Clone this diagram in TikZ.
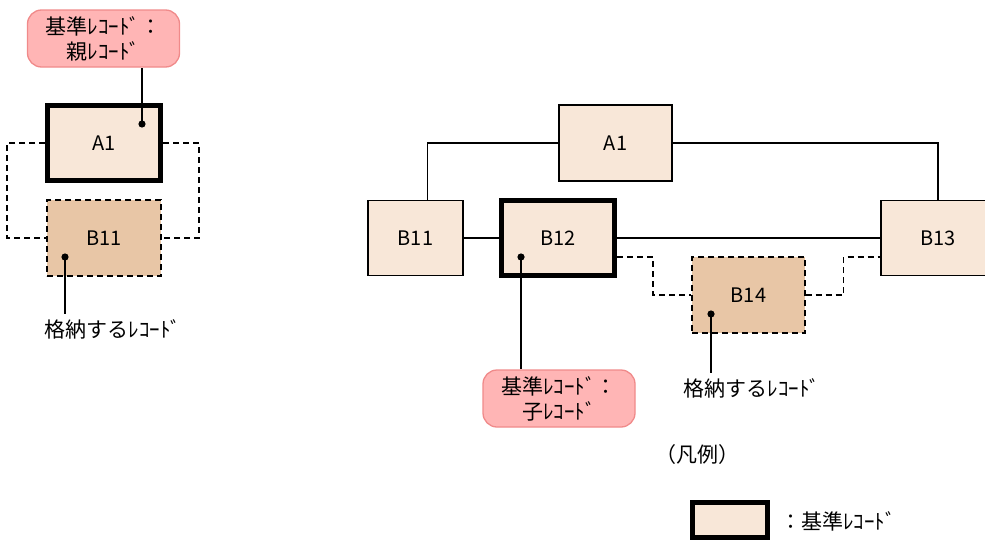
\documentclass[tikz,border=0pt]{standalone}
\usepackage{fontspec}
\setmainfont{Noto Sans CJK JP}
\definecolor{boxfill}{HTML}{F8E7D8}
\definecolor{storefill}{HTML}{E8C6A6}
\definecolor{callfill}{HTML}{FFB5B5}
\definecolor{calldraw}{HTML}{F08A8A}
\tikzset{
  rec/.style={draw=black, fill=boxfill, line width=1.3pt, minimum width=95pt, minimum height=75pt, inner sep=0pt, font=\fontsize{20}{22}\selectfont},
  baserec/.style={rec, line width=5pt, minimum width=113pt, minimum height=75pt},
  storerec/.style={rec, fill=storefill, dashed, dash pattern=on 6pt off 4pt, minimum width=113pt, minimum height=76pt},
  callout/.style={draw=calldraw, fill=callfill, line width=1.3pt, rounded corners=14pt, minimum width=152pt, minimum height=57pt, align=center, inner sep=0pt, font=\fontsize{21}{25}\selectfont},
  lbl/.style={inner sep=0pt, font=\fontsize{21}{22}\selectfont},
  conn/.style={line width=1.3pt},
  dconn/.style={line width=1.3pt, dash pattern=on 6pt off 4pt},
  dot/.style={fill=black}
}
\begin{document}
\begin{tikzpicture}[x=1pt, y=-1pt]
\useasboundingbox (0,0) rectangle (985,541);
% ---------- left part ----------
\node[callout] (c1) at (103.5,38.5) {基準ﾚｺｰﾄﾞ：\\親ﾚｺｰﾄﾞ};
\node[baserec] (A1l) at (104,143) {A1};
\node[storerec, minimum width=114pt] (B11l) at (104,238) {B11};
\coordinate (d1) at (142,124);
\coordinate (d2) at (65,257);
\node[lbl] (s1) at (113,329) {格納するﾚｺｰﾄﾞ};
\draw[conn] (d1) -- (d1 |- c1.south);
\fill[dot] (d1) circle (3.6pt);
\draw[dconn] (A1l.west) -- ++(-38,0) |- (B11l.west);
\draw[dconn] (A1l.east) -- ++(36,0) |- (B11l.east);
\draw[conn] (d2) -- ([yshift=5pt]d2 |- s1.north);
\fill[dot] (d2) circle (3.6pt);
% ---------- right part ----------
\node[rec, minimum width=113pt, minimum height=76pt] (A1r) at (615.5,143) {A1};
\node[rec] (B11r) at (415.5,238) {B11};
\node[baserec] (B12r) at (558,238) {B12};
\node[rec, minimum width=114pt] (B13r) at (938,238) {B13};
\node[storerec] (B14r) at (748.5,295) {B14};
\draw[conn] (A1r.west) -| ([xshift=12pt]B11r.north);
\draw[conn] (A1r.east) -| (B13r.north);
\draw[conn] (B11r.east) -- (B12r.west);
\draw[conn] (B12r.east) -- (B13r.west);
\draw[dconn] ([yshift=-19pt]B12r.east) -- ++(36,0) |- (B14r.west);
\draw[dconn] (B14r.east) -- ++(38,0) |- ([yshift=-19pt]B13r.west);
\node[callout] (c2) at (559,398.5) {基準ﾚｺｰﾄﾞ：\\子ﾚｺｰﾄﾞ};
\coordinate (d3) at (521,257);
\coordinate (d4) at (711,314);
\draw[conn] (d3) -- (d3 |- c2.north);
\fill[dot] (d3) circle (3.6pt);
\node[lbl] (s2) at (752,388) {格納するﾚｺｰﾄﾞ};
\draw[conn] (d4) -- ([yshift=5pt]d4 |- s2.north);
\fill[dot] (d4) circle (3.6pt);
% ---------- legend ----------
\node[lbl] (lg) at (697,455) {（凡例）};
\node[baserec, minimum width=75pt, minimum height=35pt] (lgb) at (729.5,520) {};
\node[lbl, anchor=west] (lgt) at (780,521) {：基準ﾚｺｰﾄﾞ};
\end{tikzpicture}
\end{document}
